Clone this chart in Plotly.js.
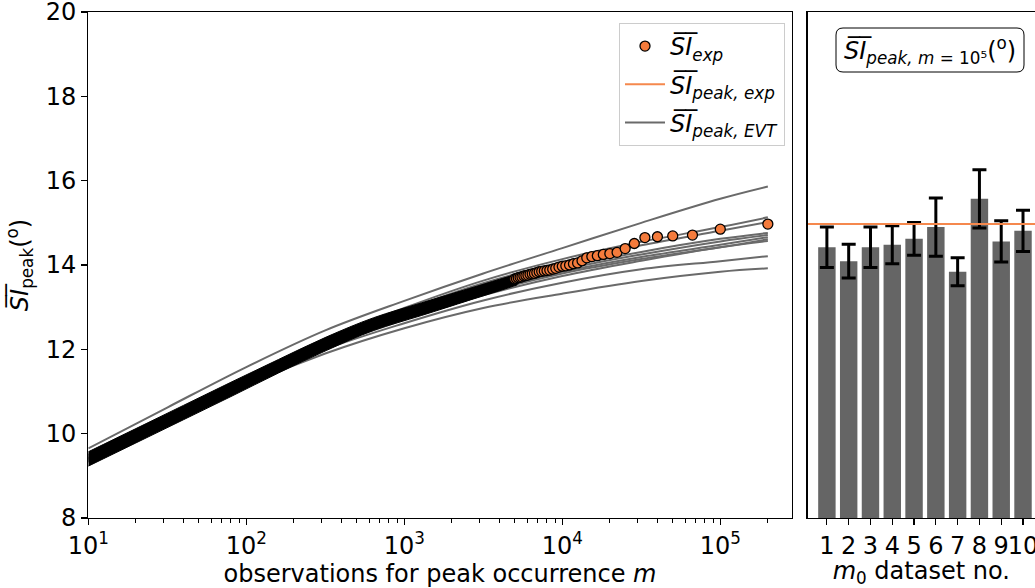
<!DOCTYPE html>
<html>
<head>
<meta charset="utf-8">
<script src="https://cdn.plot.ly/plotly-3.0.1.min.js"></script>
<style>html,body{margin:0;padding:0;overflow:hidden;background:#fff}#chart{width:1035px;height:588px}</style>
</head>
<body>
<div id="chart"></div>
<script>
// ---------- data ----------
// EVT curves (one per m0 dataset), evaluated at these m
const mEvt = [10, 31.6, 100, 316, 1000, 3162, 10000, 31623, 100000, 200000];
const evt1  = [9.38, 10.28, 11.20, 12.04, 12.70, 13.28, 13.74, 14.10, 14.42, 14.57];
const evt2  = [9.36, 10.27, 11.18, 12.00, 12.62, 13.16, 13.58, 13.90, 14.09, 14.21];
const evt3  = [9.40, 10.30, 11.22, 12.07, 12.74, 13.33, 13.80, 14.14, 14.42, 14.61];
const evt4  = [9.41, 10.31, 11.24, 12.09, 12.77, 13.37, 13.84, 14.19, 14.48, 14.66];
const evt5  = [9.44, 10.33, 11.28, 12.15, 12.85, 13.47, 13.94, 14.31, 14.62, 14.76];
const evt6  = [9.50, 10.38, 11.35, 12.24, 12.98, 13.63, 14.14, 14.55, 14.90, 15.13];
const evt7  = [9.33, 10.25, 11.15, 11.90, 12.50, 12.98, 13.32, 13.62, 13.84, 13.92];
const evt8  = [9.65, 10.62, 11.58, 12.45, 13.15, 13.80, 14.40, 15.00, 15.57, 15.86];
const evt9  = [9.42, 10.32, 11.26, 12.12, 12.81, 13.42, 13.89, 14.25, 14.56, 14.71];
const evt10 = [9.48, 10.36, 11.32, 12.20, 12.93, 13.57, 14.07, 14.47, 14.81, 15.02];

// dense experimental points (overlapping markers form a band): lower / upper edges
const mBand    = [10, 20, 40, 80, 160, 320, 640, 1280, 2560, 4000, 5200];
const bandLow  = [9.23, 9.78, 10.33, 10.88, 11.44, 11.97, 12.45, 12.80, 13.16, 13.39, 13.53];
const bandHigh = [9.57, 10.12, 10.67, 11.22, 11.76, 12.29, 12.75, 13.10, 13.44, 13.66, 13.79];

// sparse experimental points
const mExp = [200000, 100000, 66667, 50000, 40000, 33333, 28571, 25000, 22222, 20000,
              18182, 16667, 15385, 14286, 13333, 12500, 11765, 11111, 10526, 10000,
              9524, 9091, 8696, 8333, 8000, 7692, 7407, 7143, 6897, 6667,
              6452, 6250, 6061, 5882, 5714, 5556, 5405, 5263, 5128, 5000];
const siExp = [14.97, 14.85, 14.71, 14.69, 14.67, 14.65, 14.51, 14.39, 14.30, 14.27,
               14.25, 14.22, 14.20, 14.17, 14.10, 14.05, 14.03, 14.00, 13.98, 13.97,
               13.95, 13.92, 13.90, 13.88, 13.87, 13.86, 13.85, 13.84, 13.82, 13.80,
               13.79, 13.78, 13.76, 13.75, 13.74, 13.72, 13.71, 13.70, 13.68, 13.67];

// x tick labels of the left panel
const xTickVals = [10, 100, 1000, 10000, 100000];
const xTickText = ['10<sup>1</sup>', '10<sup>2</sup>', '10<sup>3</sup>', '10<sup>4</sup>', '10<sup>5</sup>'];

// right panel
const datasetNo = [1, 2, 3, 4, 5, 6, 7, 8, 9, 10];
const siPeak1e5 = [14.42, 14.09, 14.42, 14.48, 14.62, 14.90, 13.84, 15.57, 14.56, 14.81];
const siPeakErr = [0.48, 0.40, 0.48, 0.45, 0.39, 0.69, 0.33, 0.69, 0.49, 0.49];
const siPeakExp = 14.97;

// ---------- styling ----------
const FONT = 'DejaVu Sans, sans-serif';
const FS = 24;
const GRAY = '#6a6a6a';
const ORANGE = '#f47b3c';
const ORANGE_LINE = '#f5884d';
const x2Range = [0.11, 10.55];

const SI = '<i>S\u0305I\u0305</i>';

const evtAll = [evt1, evt2, evt3, evt4, evt5, evt6, evt7, evt8, evt9, evt10];
const traces = [];
evtAll.forEach((v, i) => {
  traces.push({
    type: 'scatter', mode: 'lines', x: mEvt, y: v, xaxis: 'x', yaxis: 'y',
    line: {color: GRAY, width: 2, shape: 'spline', smoothing: 1},
    name: '<i>S\u0305I\u0305<sub>peak, EVT</sub></i>', legendgroup: 'evt',
    showlegend: i === 0, legendrank: 3, hoverinfo: 'skip'
  });
});
traces.push({
  type: 'scatter', mode: 'lines', x: mBand, y: bandLow, xaxis: 'x', yaxis: 'y',
  line: {color: '#000', width: 1, shape: 'spline'}, showlegend: false, hoverinfo: 'skip'
});
traces.push({
  type: 'scatter', mode: 'lines', x: mBand, y: bandHigh, xaxis: 'x', yaxis: 'y',
  line: {color: '#000', width: 1, shape: 'spline'}, fill: 'tonexty', fillcolor: '#000',
  showlegend: false, hoverinfo: 'skip'
});
traces.push({
  type: 'scatter', mode: 'markers', x: mExp.slice().reverse(), y: siExp.slice().reverse(),
  xaxis: 'x', yaxis: 'y',
  marker: {color: ORANGE, size: 10, line: {color: '#000', width: 1.3}},
  name: '<i>S\u0305I\u0305<sub>exp</sub></i>', legendgroup: 'exp', legendrank: 1
});
traces.push({
  type: 'bar', x: datasetNo, y: siPeak1e5, xaxis: 'x2', yaxis: 'y2',
  width: 0.8, marker: {color: '#656565'},
  error_y: {type: 'data', array: siPeakErr, visible: true, color: '#000', thickness: 3, width: 7},
  showlegend: false, hoverinfo: 'skip'
});
traces.push({
  type: 'scatter', mode: 'lines', x: x2Range, y: [siPeakExp, siPeakExp], xaxis: 'x2', yaxis: 'y2',
  line: {color: ORANGE_LINE, width: 2},
  name: '<i>S\u0305I\u0305<sub>peak, exp</sub></i>', legendgroup: 'pexp', legendrank: 2
});

const W = 1035, H = 588, T = 12, B = 70;
const px = v => v / W;
const py = v => 1 - (v - T) / (H - T - B);

// rounded box path for the right-panel label
function roundBox(x0, y0, x1, y1, r) {
  const rx = r / W, ry = r / (H - T - B);
  const X0 = px(x0), X1 = px(x1), Y0 = py(y0), Y1 = py(y1);
  return `M ${X0 + rx} ${Y0} L ${X1 - rx} ${Y0} Q ${X1} ${Y0} ${X1} ${Y0 - ry} ` +
         `L ${X1} ${Y1 + ry} Q ${X1} ${Y1} ${X1 - rx} ${Y1} L ${X0 + rx} ${Y1} ` +
         `Q ${X0} ${Y1} ${X0} ${Y1 + ry} L ${X0} ${Y0 - ry} Q ${X0} ${Y0} ${X0 + rx} ${Y0} Z`;
}

const tickFont = {family: FONT, size: FS, color: '#000'};
const layout = {
  width: W, height: H,
  margin: {l: 0, r: 0, t: T, b: B},
  paper_bgcolor: '#fff', plot_bgcolor: '#fff',
  font: {family: FONT, size: FS, color: '#000'},
  showlegend: true,
  legend: {
    x: px(785), xanchor: 'right', y: py(23), yanchor: 'top',
    bgcolor: 'rgba(255,255,255,0.9)', bordercolor: '#cccccc', borderwidth: 1,
    font: {family: FONT, size: FS, color: '#000'}, traceorder: 'grouped', tracegroupgap: 4,
    itemwidth: 40
  },
  xaxis: {
    domain: [px(88.3), px(791.7)], type: 'log', range: [1, 5.452],
    tickmode: 'array', tickvals: xTickVals, ticktext: xTickText,
    showgrid: false, zeroline: false,
    showline: true, linecolor: '#000', linewidth: 1.2, mirror: true,
    ticks: 'outside', ticklen: 6, tickwidth: 1.2, tickcolor: '#000',
    minor: {ticks: 'outside', ticklen: 3.5, tickwidth: 1, tickcolor: '#000', dtick: 'D1', showgrid: false},
    tickfont: tickFont, tickangle: 0, ticklabeloverflow: 'allow',
    title: {text: 'observations for peak occurrence <i>m</i>', font: {family: FONT, size: FS}, standoff: 2}
  },
  yaxis: {
    domain: [0, 1], range: [8, 20], dtick: 2, showgrid: false, zeroline: false,
    showline: true, linecolor: '#000', linewidth: 1.2, mirror: true,
    ticks: 'outside', ticklen: 6, tickwidth: 1.2, tickcolor: '#000',
    tickfont: tickFont, ticklabeloverflow: 'allow',
    title: {text: SI + '<sub>peak</sub>(<sup>o</sup>)', font: {family: FONT, size: FS}, standoff: 10}
  },
  xaxis2: {
    domain: [px(807.5), 1], range: x2Range, tickmode: 'array', tickvals: datasetNo,
    ticktext: datasetNo.map(String), showgrid: false, zeroline: false,
    showline: true, linecolor: '#000', linewidth: 1.2, mirror: true,
    ticks: 'outside', ticklen: 6, tickwidth: 1.2, tickcolor: '#000',
    tickfont: tickFont, anchor: 'y2', ticklabeloverflow: 'allow', tickangle: 0,
    title: {text: '<i>m</i><sub>0</sub> dataset no.', font: {family: FONT, size: FS}, standoff: 2}
  },
  yaxis2: {
    domain: [0, 1], range: [8, 20], showticklabels: false, ticks: '', showgrid: false,
    zeroline: false, showline: true, linecolor: '#000', linewidth: 1.2, anchor: 'x2'
  },
  shapes: [{
    type: 'path', xref: 'paper', yref: 'paper', path: roundBox(836, 28, 1024, 72, 7),
    line: {color: '#000', width: 1}, fillcolor: '#fff', layer: 'above'
  }],
  annotations: [{
    xref: 'paper', yref: 'paper', x: px(930), y: py(50), xanchor: 'center', yanchor: 'middle',
    text: SI + '<sub><i>peak, m</i> = 10\u2075</sub>(<sup>o</sup>)', showarrow: false,
    font: {family: FONT, size: FS, color: '#000'}
  }]
};

Plotly.newPlot('chart', traces, layout, {displayModeBar: false, staticPlot: true});
</script>
</body>
</html>
